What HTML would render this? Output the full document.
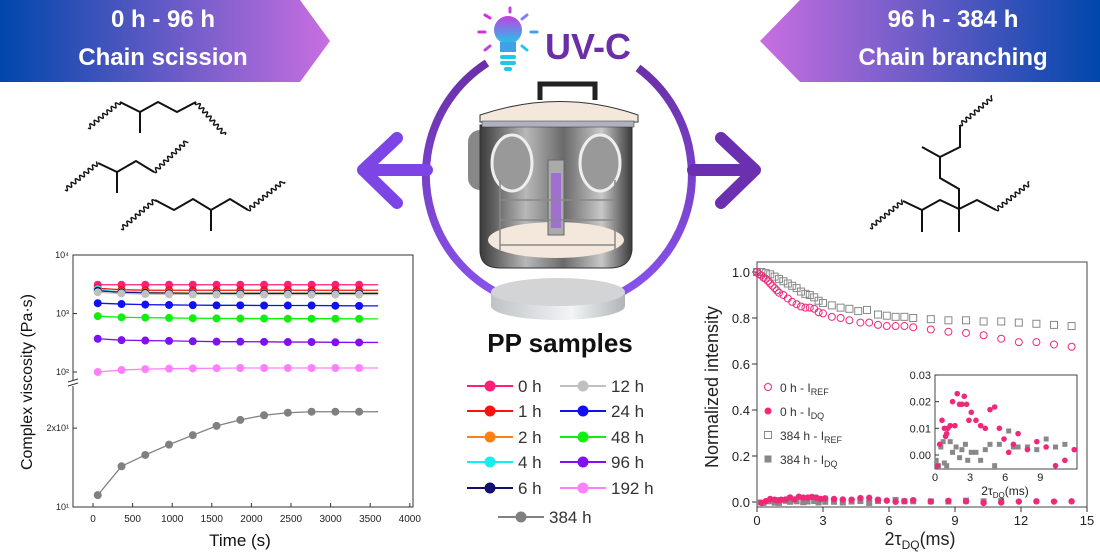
<!DOCTYPE html>
<html><head><meta charset="utf-8">
<style>
html,body{margin:0;padding:0;background:#fff;}
svg{display:block;font-family:"Liberation Sans",Arial,sans-serif;}
</style></head>
<body>
<svg id="root" width="1100" height="560" viewBox="0 0 1100 560">
<defs>
<linearGradient id="gl" x1="0" x2="1" y1="0" y2="0"><stop offset="0" stop-color="#0047ab"/><stop offset="1" stop-color="#c86ee0"/></linearGradient>
<linearGradient id="gr" x1="1" x2="0" y1="0" y2="0"><stop offset="0" stop-color="#0047ab"/><stop offset="1" stop-color="#c86ee0"/></linearGradient>
<linearGradient id="gring" x1="0" x2="0" y1="0" y2="1"><stop offset="0" stop-color="#6a2fa8"/><stop offset="1" stop-color="#8a55f0"/></linearGradient>
<linearGradient id="gbody" x1="0" x2="1"><stop offset="0" stop-color="#3a3a3a"/><stop offset="0.3" stop-color="#b8b8b8"/><stop offset="0.55" stop-color="#6a6a6a"/><stop offset="0.8" stop-color="#c8c8c8"/><stop offset="1" stop-color="#3a3a3a"/></linearGradient>
<linearGradient id="gdisc" x1="0" x2="1"><stop offset="0" stop-color="#bfc3c5"/><stop offset="0.6" stop-color="#f2f5f6"/><stop offset="1" stop-color="#b0b4b6"/></linearGradient>
<linearGradient id="gbulb" x1="0" x2="0" y1="0" y2="1"><stop offset="0" stop-color="#c040e0"/><stop offset="1" stop-color="#20c8e8"/></linearGradient>
</defs>

<g>
<polygon points="0,0 300,0 330,41 300,82 0,82" fill="url(#gl)"/>
<text x="163" y="27" font-size="24" font-weight="bold" fill="#fff" text-anchor="middle">0 h - 96 h</text>
<text x="163" y="65" font-size="24" font-weight="bold" fill="#fff" text-anchor="middle">Chain scission</text>
</g>
<g>
<polygon points="1100,0 800,0 760,41 800,82 1100,82" fill="url(#gr)"/>
<text x="953" y="27" font-size="24" font-weight="bold" fill="#fff" text-anchor="middle">96 h - 384 h</text>
<text x="953" y="65" font-size="24" font-weight="bold" fill="#fff" text-anchor="middle">Chain branching</text>
</g>

<g id="molecules" stroke="#111" stroke-width="2" fill="none"></g>

<g>
<path d="M 487 63 A 133 133 0 1 0 638 68" stroke="url(#gring)" stroke-width="8" fill="none"/>
<path d="M 427 170 L 363 170 M 397 138 L 363 170 L 397 203" stroke="#7d45e6" stroke-width="12" fill="none" stroke-linecap="round" stroke-linejoin="round"/>
<path d="M 693 170 L 755 170 M 721 138 L 755 170 L 721 203" stroke="#6a30b0" stroke-width="12" fill="none" stroke-linecap="round" stroke-linejoin="round"/>
</g>
<g>
<ellipse cx="508" cy="30" rx="14" ry="14" fill="url(#gbulb)"/>
<rect x="500" y="42" width="16" height="10" fill="#40a0e8"/>
<rect x="500" y="55" width="16" height="4" rx="2" fill="#20c8e8"/>
<rect x="500" y="61" width="16" height="4" rx="2" fill="#20c8e8"/>
<rect x="504" y="67" width="8" height="4" rx="2" fill="#20c8e8"/>
<g stroke-width="3" stroke-linecap="round"><line x1="485" y1="15" x2="490" y2="18" stroke="#d030e0"/><line x1="479" y1="32" x2="485" y2="32" stroke="#d030e0"/><line x1="510" y1="8" x2="510" y2="12" stroke="#c040e0"/><line x1="527" y1="15" x2="522" y2="19" stroke="#8080ff"/><line x1="537" y1="32" x2="531" y2="32" stroke="#40a0e8"/><line x1="527" y1="50" x2="522" y2="46" stroke="#30c0e8"/><line x1="485" y1="50" x2="490" y2="46" stroke="#c040e0"/></g>
</g>
<text x="545" y="59" font-size="36" font-weight="bold" fill="#6a2fa8">UV-C</text>

<g>
<rect x="468" y="130" width="30" height="60" rx="12" fill="#888"/>
<rect x="602" y="130" width="30" height="60" rx="12" fill="#888"/>
<path d="M 480 125 L 632 125 L 632 250 Q 630 268 610 268 L 500 268 Q 480 268 480 250 Z" fill="url(#gbody)" stroke="#333"/>
<ellipse cx="556" cy="240" rx="68" ry="18" fill="#f4e8dc"/>
<ellipse cx="512" cy="163" rx="20" ry="28" fill="#999" stroke="#eee" stroke-width="3"/>
<ellipse cx="600" cy="163" rx="20" ry="28" fill="#999" stroke="#eee" stroke-width="3"/>
<rect x="548" y="160" width="16" height="75" fill="#aaa" stroke="#666"/>
<rect x="551" y="173" width="10" height="55" fill="#a070d0"/>
<g stroke="#888" fill="none" stroke-width="1.5"><line x1="500" y1="200" x2="615" y2="200"/><line x1="500" y1="220" x2="615" y2="220"/><line x1="500" y1="245" x2="615" y2="245"/><line x1="500" y1="180" x2="500" y2="250"/><line x1="615" y1="180" x2="615" y2="250"/></g>
<path d="M 480 115 Q 560 88 638 115 L 638 122 L 480 122 Z" fill="#f4e8dc" stroke="#333"/>
<rect x="482" y="121" width="152" height="6" fill="#b0b0c0" stroke="#333" stroke-width="0.5"/>
<path d="M 540 100 L 540 84 L 595 84 L 595 100" fill="none" stroke="#222" stroke-width="5"/>
<path d="M 491 292 L 491 306 A 67 14 0 0 0 625 306 L 625 292" fill="url(#gdisc)"/>
<ellipse cx="558" cy="292" rx="67" ry="14" fill="#d2d4d6"/>
</g>
<text x="560" y="352" font-size="26" font-weight="bold" fill="#111" text-anchor="middle">PP samples</text>

<g id="legend"></g>
<g id="visc"></g>
<g id="nmr"></g>
</svg>
<script>
// ===== Viscosity chart data =====
const times=[60,360,660,960,1260,1560,1860,2160,2460,2760,3060,3360];
const seriesNames=["0 h","1 h","2 h","4 h","6 h","12 h","24 h","48 h","96 h","192 h","384 h"];
const seriesColors=["#ff1e78","#ff1010","#ff8010","#10f0f0","#101070","#c0c0c0","#1010f0","#10f010","#8010f0","#ff80ff","#808080"];
const v0h=[3100,3100,3100,3100,3100,3100,3100,3100,3100,3100,3100,3100];
const v1h=[2700,2550,2500,2500,2500,2500,2500,2500,2500,2500,2500,2500];
const v2h=[2500,2350,2300,2280,2250,2250,2250,2250,2250,2250,2250,2250];
const v4h=[2600,2300,2250,2230,2220,2220,2220,2220,2220,2220,2220,2220];
const v6h=[2450,2300,2250,2220,2200,2200,2200,2200,2200,2200,2200,2200];
const v12h=[2300,2200,2150,2130,2120,2110,2100,2100,2100,2100,2100,2100];
const v24h=[1500,1450,1420,1400,1390,1380,1380,1370,1370,1370,1360,1350];
const v48h=[900,860,850,840,830,825,820,820,815,815,815,810];
const v96h=[370,350,345,340,335,330,330,328,325,325,322,320];
const v192h=[100,108,112,114,115,116,117,117,117,117,117,117];
const v384h=[11.1,14.3,15.8,17.3,18.8,20.4,21.5,22.4,22.9,23.1,23.1,23.1];
const seriesVals=[v0h,v1h,v2h,v4h,v6h,v12h,v24h,v48h,v96h,v192h,v384h];
const xTicks=[0,500,1000,1500,2000,2500,3000,3500,4000];

// ===== NMR chart data =====
const refX0=[0,0.1,0.2,0.3,0.4,0.5,0.6,0.7,0.8,0.9,1.0,1.2,1.4,1.6,1.8,2.0,2.2,2.4,2.6,2.8,3.0,3.4,3.8,4.2,4.7,5.1,5.5,5.9,6.3,6.7,7.1,7.9,8.7,9.5,10.3,11.1,11.9,12.7,13.5,14.3];
const refY0=[1,0.99,0.985,0.975,0.97,0.96,0.95,0.94,0.93,0.92,0.91,0.9,0.885,0.87,0.86,0.85,0.845,0.845,0.84,0.825,0.82,0.805,0.8,0.79,0.78,0.78,0.77,0.765,0.765,0.765,0.76,0.75,0.74,0.735,0.725,0.71,0.695,0.695,0.685,0.675];
const refX384=[0,0.2,0.4,0.6,0.8,1.0,1.2,1.4,1.6,1.8,2.0,2.2,2.4,2.6,2.8,3.0,3.4,3.8,4.2,4.6,5.0,5.5,5.9,6.3,6.7,7.1,7.9,8.7,9.5,10.3,11.1,11.9,12.7,13.5,14.3];
const refY384=[1,1,0.995,0.99,0.98,0.97,0.96,0.95,0.94,0.93,0.915,0.905,0.9,0.89,0.875,0.865,0.855,0.845,0.84,0.83,0.835,0.815,0.81,0.805,0.805,0.8,0.795,0.79,0.79,0.785,0.785,0.78,0.775,0.77,0.765];
const dqX0=[0.2,0.4,0.6,0.8,0.9,1.0,1.1,1.3,1.5,1.7,1.9,2.1,2.3,2.5,2.7,2.9,3.1,3.5,3.9,4.3,4.7,5.1,5.5,5.9,6.3,6.7,7.1,7.9,8.7,9.5,10.3,11.1,11.9,12.7,13.5,14.3];
const dqY0=[-0.004,0.004,0.013,0.01,0.007,0.008,0.01,0.011,0.02,0.011,0.023,0.019,0.019,0.022,0.019,0.013,0.016,0.013,0.011,0.01,0.017,0.018,0.01,0.006,0.001,0.004,0.008,0.002,0.005,0.003,-0.004,-0.002,0.002,0.003,0.002,0.003];
const dqX384=[0.1,0.3,0.5,0.7,0.8,1.0,1.3,1.5,1.8,2.1,2.3,2.6,2.8,3.1,3.5,3.9,4.3,4.7,5.1,5.5,6.3,6.7,7.1,7.9,8.7,9.5,10.3,11.1];
const dqY384=[-0.002,-0.004,0.003,0.005,-0.003,-0.004,0.005,0.001,0.003,-0.001,0.002,0.004,-0.002,0.001,0.001,-0.002,0.002,0.004,-0.004,0.004,0.009,0.003,0.003,0.003,0.002,0.006,0.003,0.004];
const nmrXTicks=[0,3,6,9,12,15];
const nmrYTicks=[0.0,0.2,0.4,0.6,0.8,1.0];
const insetXTicks=[0,3,6,9];
const insetYTicks=[0.00,0.01,0.02,0.03];

const NS="http://www.w3.org/2000/svg";
function mk(tag,attrs,parent){const e=document.createElementNS(NS,tag);for(const k in attrs)e.setAttribute(k,attrs[k]);parent.appendChild(e);return e;}

// ----- molecules -----
const mol=document.getElementById('molecules');
function wavy(x1,y1,x2,y2){const dx=x2-x1,dy=y2-y1,L=Math.hypot(dx,dy);const ux=dx/L,uy=dy/L,px=-uy,py=ux;const n=Math.round(L*2);let d=`M ${x1} ${y1}`;for(let i=1;i<=n;i++){const s=L*i/n;const a=2*Math.sin(s/5.5*2*Math.PI);d+=` L ${(x1+ux*s+px*a).toFixed(2)} ${(y1+uy*s+py*a).toFixed(2)}`;}return d;}
function poly(pts){return 'M '+pts.map(p=>p.join(' ')).join(' L ');}
const molPaths=[
 wavy(88,128,120,102),poly([[120,102],[140,112],[158,102],[177,112],[196,102]]),poly([[140,112],[140,133]]),wavy(196,102,225,135),
 wavy(65,190,98,163),poly([[98,163],[117,172],[136,161],[154,172]]),poly([[117,172],[117,193]]),wavy(154,172,187,141),
 wavy(121,229,155,200),poly([[155,200],[174,210],[193,199],[211,210],[230,199],[248,210]]),poly([[211,210],[211,231]]),wavy(248,210,284,181),
 wavy(960,125,993,97),poly([[960,125],[960,147],[940,157],[940,178],[959,189],[959,209]]),poly([[940,157],[922,147]]),
 wavy(870,228,903,201),poly([[903,201],[922,210],[940,200],[959,209],[977,200],[996,210]]),poly([[922,210],[922,232]]),poly([[959,209],[959,232]]),wavy(996,210,1030,183)
];
molPaths.forEach(d=>{const p=mk('path',{d:d,'stroke-width':d.length>200?1.4:2},mol);

});

// ----- legend -----
const leg=document.getElementById('legend');
const legPos=[[467,386],[467,411],[467,437],[467,462],[467,488],[560,386],[560,411],[560,437],[560,462],[560,488],[498,517]];
seriesNames.forEach((n,i)=>{const [x,y]=legPos[i];const g=mk('g',{},leg);


mk('line',{x1:x,y1:y,x2:x+46,y2:y,stroke:seriesColors[i],'stroke-width':2},g);
mk('circle',{cx:x+23,cy:y,r:5.5,fill:seriesColors[i]},g);
const t=mk('text',{x:x+51,y:y+6,'font-size':17,fill:'#333'},g);t.textContent=n;});

// ----- viscosity chart -----
const vg=document.getElementById('visc');
const vx=t=>93+t*0.0792;
const vy=v=>v>=60?(372-(Math.log10(v)-2)*58.5):(507-(Math.log10(v)-1)*262);
mk('rect',{x:73,y:255,width:340,height:252,fill:'none',stroke:'#333','stroke-width':1},vg);
mk('rect',{x:68,y:380,width:10,height:6,fill:'#fff'},vg);
mk('path',{d:'M 68 382 L 78 379 M 68 386 L 78 383',stroke:'#333','stroke-width':1,fill:'none'},vg);
xTicks.forEach(t=>{mk('line',{x1:vx(t),y1:507,x2:vx(t),y2:503,stroke:'#333'},vg);
const tx=mk('text',{x:vx(t),y:522,'font-size':10,'text-anchor':'middle',fill:'#222'},vg);tx.textContent=t;

});
[[1e4,'10⁴'],[1e3,'10³'],[1e2,'10²'],[20,'2x10¹'],[10,'10¹']].forEach(([v,l])=>{
mk('line',{x1:73,y1:vy(v),x2:77,y2:vy(v),stroke:'#333'},vg);
const tx=mk('text',{x:69,y:vy(v)+3,'font-size':9,'text-anchor':'end',fill:'#222'},vg);tx.textContent=l;

});
const vxl=mk('text',{x:240,y:546,'font-size':17,'text-anchor':'middle',fill:'#111'},vg);vxl.textContent='Time (s)';


const vyl=mk('text',{x:0,y:0,'font-size':16,'text-anchor':'middle',fill:'#111',transform:'translate(32,382) rotate(-90)'},vg);vyl.textContent='Complex viscosity (Pa·s)';


seriesVals.forEach((vals,i)=>{
 const pts=vals.map((v,j)=>[vx(times[j]),vy(v)]);
 pts.push([vx(3600),vy(vals[vals.length-1])]);
 const pl=mk('polyline',{points:pts.map(p=>p.join(',')).join(' '),fill:'none',stroke:seriesColors[i],'stroke-width':1.3},vg);
 
 
 vals.forEach((v,j)=>{const c=mk('circle',{cx:vx(times[j]),cy:vy(v),r:4,fill:seriesColors[i]},vg);
 
 });
});

// ----- NMR chart -----
const ng=document.getElementById('nmr');
const nx=t=>757+t*22;
const ny=v=>502-v*230;
mk('rect',{x:757,y:262,width:330,height:245,fill:'none',stroke:'#444','stroke-width':1},ng);
nmrXTicks.forEach(t=>{mk('line',{x1:nx(t),y1:507,x2:nx(t),y2:512,stroke:'#333'},ng);
const tx=mk('text',{x:nx(t),y:525,'font-size':13,'text-anchor':'middle',fill:'#222'},ng);tx.textContent=t;

});
nmrYTicks.forEach(v=>{mk('line',{x1:752,y1:ny(v),x2:757,y2:ny(v),stroke:'#333'},ng);
const tx=mk('text',{x:750,y:ny(v)+5,'font-size':13,'text-anchor':'end',fill:'#222'},ng);tx.textContent=v.toFixed(1);

});
const nxl=mk('text',{x:920,y:545,'font-size':18,'text-anchor':'middle',fill:'#222'},ng);
nxl.innerHTML='2τ<tspan font-size="12" dy="4">DQ</tspan><tspan dy="-4">(ms)</tspan>';


const nyl=mk('text',{x:0,y:0,'font-size':18,'text-anchor':'middle',fill:'#222',transform:'translate(718,387) rotate(-90)'},ng);nyl.textContent='Normalized intensity';


function marks(X,Y,fx,fy,type,col,sz,g){X.forEach((x,i)=>{let e;
 if(type==='oc')e=mk('circle',{cx:fx(x),cy:fy(Y[i]),r:sz,fill:'none',stroke:col,'stroke-width':1},g);
 else if(type==='fc')e=mk('circle',{cx:fx(x),cy:fy(Y[i]),r:sz,fill:col},g);
 else if(type==='os')e=mk('rect',{x:fx(x)-sz,y:fy(Y[i])-sz,width:2*sz,height:2*sz,fill:'none',stroke:col,'stroke-width':1},g);
 else e=mk('rect',{x:fx(x)-sz,y:fy(Y[i])-sz,width:2*sz,height:2*sz,fill:col},g);
 
 });}
marks(refX384,refY384,nx,ny,'os','#888',3.5,ng);
marks(refX0,refY0,nx,ny,'oc','#f0287a',3.5,ng);
marks(dqX384,dqY384,nx,ny,'fs','#888',3,ng);
marks(dqX0,dqY0,nx,ny,'fc','#f0287a',3.2,ng);
const nl=[['oc','#f0287a','0 h - I','REF'],['fc','#f0287a','0 h - I','DQ'],['os','#888','384 h - I','REF'],['fs','#888','384 h - I','DQ']];
nl.forEach((l,i)=>{const y=387+i*24;const g=mk('g',{},ng);


marks([0],[0],()=>768,()=>y,l[0],l[1],3.5,g);
const t=mk('text',{x:780,y:y+5,'font-size':12,fill:'#333'},g);
t.innerHTML=l[2]+'<tspan font-size="9" dy="3">'+l[3]+'</tspan>';});
const ig=mk('g',{},ng);


const ix=t=>935+t*11.7;
const iy=v=>455-v*2667;
mk('rect',{x:935,y:375,width:142,height:94,fill:'#fff',stroke:'#444','stroke-width':1},ig);
insetXTicks.forEach(t=>{const tx=mk('text',{x:ix(t),y:481,'font-size':11,'text-anchor':'middle',fill:'#222'},ig);tx.textContent=t;

});
insetYTicks.forEach(v=>{mk('line',{x1:935,y1:iy(v),x2:939,y2:iy(v),stroke:'#333'},ig);
const tx=mk('text',{x:931,y:iy(v)+4,'font-size':11,'text-anchor':'end',fill:'#222'},ig);tx.textContent=v.toFixed(2);

});
const ixl=mk('text',{x:1005,y:495,'font-size':12,'text-anchor':'middle',fill:'#222'},ig);
ixl.innerHTML='2τ<tspan font-size="8" dy="3">DQ</tspan><tspan dy="-3">(ms)</tspan>';
const clip=mk('clipPath',{id:'iclip'},ig);mk('rect',{x:935,y:375,width:142,height:94},clip);
const ip=mk('g',{'clip-path':'url(#iclip)'},ig);
marks(dqX384,dqY384,ix,iy,'fs','#888',2.5,ip);
marks(dqX0,dqY0,ix,iy,'fc','#f0287a',2.8,ip);
</script>
</body></html>
